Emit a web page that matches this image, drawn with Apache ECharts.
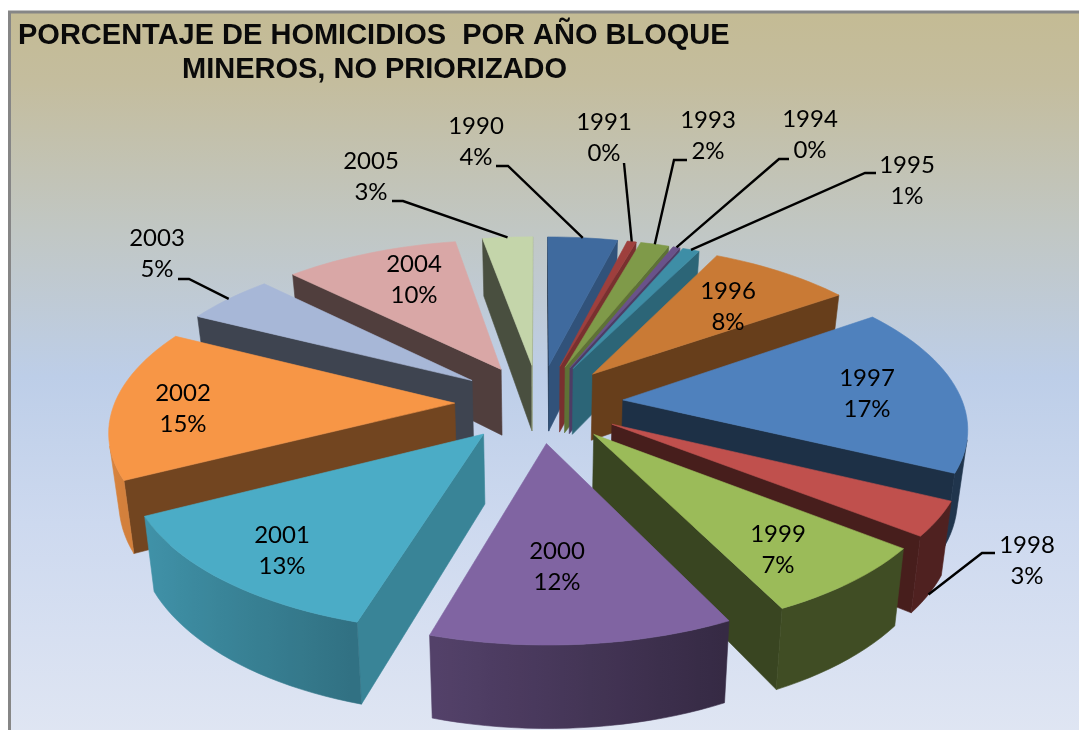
<!DOCTYPE html>
<html>
<head>
<meta charset="utf-8">
<style>html,body{margin:0;padding:0;background:#fff}#c{width:1079px;height:730px}</style>
<script src="https://cdn.jsdelivr.net/npm/echarts@6/dist/echarts.min.js"></script>
</head>
<body>
<div id="c"></div>
<script>
// ---- data ----
const years = ['1990','1991','1993','1994','1995','1996','1997','1998','1999','2000','2001','2002','2003','2004','2005'];
const shares = [3.9,0.5,1.6,0.4,0.95,7.95,16.9,3.4,7.1,11.9,12.85,15.0,5.0,9.75,2.8];
const percentLabels = ['4%','0%','2%','0%','1%','8%','17%','3%','7%','12%','13%','15%','5%','10%','3%'];
const titleLines = ['PORCENTAJE DE HOMICIDIOS  POR AÑO BLOQUE','MINEROS, NO PRIORIZADO'];
// ---- styling ----
const colors = ['#3f6a9e','#9e3f3d','#7f9a49','#69528a','#3e8ea6','#c97a35','#4f81bd','#c0504d','#9bbb59','#8064a2','#4bacc6','#f79646','#a7b7d7','#d9a7a6','#c4d5aa'];
// label centres (px) and leader routes: [label-side points], fraction along the arc, depth level
const labelPos = [[476,142],[604,138],[708,136],[810,135],[907,181],[728,307],[867,394],[1027,561],[778,550],[557,567],[282,551],[183,409],[157,254],[414,280],[371,177]];
const leaders = {
  0:{pts:[[496,166],[508,166]],f:.5,z:0},
  1:{pts:[[624,163]],f:.5,z:0},
  2:{pts:[[687,160],[674,160]],f:.5,z:0},
  3:{pts:[[789,159],[779,159]],f:.5,z:0},
  4:{pts:[[876,173],[865,173]],f:.5,z:0},
  7:{pts:[[995,553],[982,553]],f:.5,z:1},
  12:{pts:[[178,279],[189,279]],f:.5,z:0},
  14:{pts:[[392,201],[403,201]],f:.5,z:0}
};
const CX=539, CY=403, SX=340, SY=158, BK=.149, WALL=68, EXPLODE=.248, TAPER=.024;
const total = shares.reduce((a,b)=>a+b,0);
let acc=0;
const slices = shares.map((s,i)=>{const a0=acc/total*Math.PI*2; acc+=s; const a1=acc/total*Math.PI*2; return {i,a0,a1,mid:(a0+a1)/2};});
function proj(u,v,z){const k=1/(1-BK*v); return [CX+SX*u*k*(1-TAPER*z), CY+SY*v*k+WALL*z*k];}
function uv(s,r,a){return [EXPLODE*Math.sin(s.mid)+r*Math.sin(a), -EXPLODE*Math.cos(s.mid)-r*Math.cos(a)];}
function shade(hex,f){const n=parseInt(hex.slice(1),16);const c=[n>>16&255,n>>8&255,n&255].map(x=>Math.round(x*f));return 'rgb('+c.join(',')+')';}
function area(p){let s=0;for(let i=0;i<p.length;i++){const a=p[i],b=p[(i+1)%p.length];s+=a[0]*b[1]-b[0]*a[1];}return s/2;}
function poly(points,fill){return {type:'polygon',shape:{points},style:{fill,stroke:fill,lineWidth:.6}};}

function renderSlice(params,api){
  const s=slices[api.value(0)], base=colors[s.i], kids=[];
  const n=Math.max(2,Math.ceil((s.a1-s.a0)/(Math.PI/90)));
  const top=[], apex=uv(s,0,0);
  for(let k=0;k<=n;k++){const a=s.a0+(s.a1-s.a0)*k/n;const q=uv(s,1,a);top.push(proj(q[0],q[1],0));}
  const apexT=proj(apex[0],apex[1],0), apexB=proj(apex[0],apex[1],1);
  function sideWall(a,sign){
    const q=uv(s,1,a), t=proj(q[0],q[1],0), b=proj(q[0],q[1],1);
    const pts=sign>0?[apexT,t,b,apexB]:[t,apexT,apexB,b];
    if(area(pts)<=0) return;
    const nu=sign>0?Math.cos(a):-Math.cos(a);
    const f=.37+.43*Math.pow(Math.max(0,nu),2);
    kids.push(poly(pts,shade(base,f)));
  }
  sideWall(s.a0,-1); sideWall(s.a1,1);
  // outer curved wall: one polygon per visible run, shaded by a gradient along x
  const upper=[], lower=[], stops=[];
  for(let k=0;k<n;k++){
    const a=s.a0+(s.a1-s.a0)*k/n, b=s.a0+(s.a1-s.a0)*(k+1)/n;
    const qa=uv(s,1,a), qb=uv(s,1,b);
    const pts=[proj(qa[0],qa[1],0),proj(qb[0],qb[1],0),proj(qb[0],qb[1],1),proj(qa[0],qa[1],1)];
    if(area(pts)>=0) continue;
    if(!upper.length){upper.push(pts[0]);lower.push(pts[3]);}
    upper.push(pts[1]);lower.push(pts[2]);
    stops.push({x:(pts[0][0]+pts[1][0])/2,f:Math.max(.41,.56-.33*Math.sin((a+b)/2))});
  }
  if(upper.length){
    const xs=stops.map(t=>t.x), x0=Math.min.apply(null,xs), x1=Math.max.apply(null,xs), w=Math.max(1,x1-x0);
    const colorStops=stops.map(t=>({offset:(t.x-x0)/w,color:shade(base,t.f)})).sort((p,q)=>p.offset-q.offset);
    const fill={type:'linear',x:x0,y:0,x2:x0+w,y2:0,global:true,colorStops};
    kids.push({type:'polygon',shape:{points:upper.concat(lower.slice().reverse())},style:{fill,stroke:fill,lineWidth:.6}});
  }
  kids.push(poly([apexT].concat(top),base));
  return {type:'group',children:kids};
}
function renderLabel(params,api){
  const i=api.value(0), kids=[], p=labelPos[i], L=leaders[i];
  if(L){
    const s=slices[i], a=s.a0+(s.a1-s.a0)*L.f, q=uv(s,1,a);
    const end=proj(q[0],q[1],L.z);
    kids.push({type:'polyline',shape:{points:L.pts.concat([end])},style:{stroke:'#000',lineWidth:2.4,fill:'none'}});
  }
  kids.push({type:'text',style:{x:p[0],y:p[1],text:years[i]+'\n'+percentLabels[i],fill:'#000',font:'24px Lato',lineHeight:31.5,align:'center',verticalAlign:'middle'}});
  return {type:'group',children:kids};
}
const order=slices.slice().sort((a,b)=>(-Math.cos(a.mid))-(-Math.cos(b.mid))).map(s=>[s.i]);
const chart=echarts.init(document.getElementById('c'),null,{renderer:'canvas'});
chart.setOption({
  animation:false,
  backgroundColor:'#fff',
  title:[
    {text:titleLines[0],left:18,top:21,padding:0,textStyle:{fontFamily:'Liberation Sans',fontWeight:'bold',fontSize:29,color:'#0a0a0a'}},
    {text:titleLines[1],left:182,top:55,padding:0,textStyle:{fontFamily:'Liberation Sans',fontWeight:'bold',fontSize:29,color:'#0a0a0a'}}
  ],
  graphic:[
    {type:'rect',z:-10,shape:{x:9.5,y:12,width:1080,height:730},
     style:{fill:new echarts.graphic.LinearGradient(0,0,0,1,[
       {offset:0,color:'#c4bb94'},{offset:.1,color:'#c4bd9e'},{offset:.3,color:'#c1c7c4'},{offset:.5,color:'#bdcee8'},{offset:.7,color:'#cdd9ef'},{offset:1,color:'#e0e6f3'}]),
       stroke:'#868686',lineWidth:3}}
  ],
  series:[
    {type:'custom',coordinateSystem:'none',z:2,silent:true,data:order,renderItem:renderSlice,encode:{}},
    {type:'custom',coordinateSystem:'none',z:3,silent:true,data:years.map((y,i)=>[i]),renderItem:renderLabel,encode:{}}
  ]
});
</script>
</body>
</html>
